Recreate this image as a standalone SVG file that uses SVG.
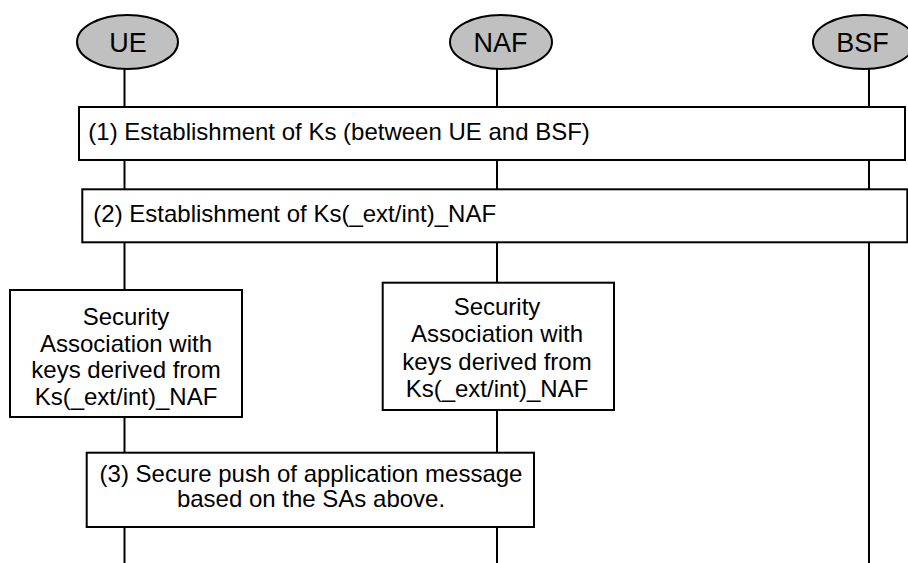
<svg xmlns="http://www.w3.org/2000/svg" width="908" height="563" viewBox="0 0 908 563">
<style>
.life{stroke:#000;stroke-width:2;fill:none}
.ent{fill:#c0c0c0;stroke:#000;stroke-width:2}
.box{fill:#fff;stroke:#000;stroke-width:2}
.hd{font-family:"Liberation Sans",Arial,sans-serif;font-size:27px;fill:#000;text-anchor:middle}
.t{font-family:"Liberation Sans",Arial,sans-serif;font-size:24px;fill:#000}
.c{text-anchor:middle}
</style>
<rect x="0" y="0" width="908" height="563" fill="#fff"/>
<g id="connectors">
<line class="life" x1="124.5" y1="69" x2="124.5" y2="563"/>
<line class="life" x1="497" y1="69" x2="497" y2="563"/>
<line class="life" x1="869" y1="69" x2="869" y2="563"/>
</g>
<g id="UE">
<ellipse class="ent" cx="127.5" cy="42" rx="50.5" ry="27"/>
<text class="hd" x="128" y="52">UE</text>
</g>
<g id="NAF">
<ellipse class="ent" cx="501" cy="42" rx="51" ry="27"/>
<text class="hd" x="500.5" y="52">NAF</text>
</g>
<g id="BSF">
<ellipse class="ent" cx="864" cy="42" rx="51" ry="27"/>
<text class="hd" x="862.5" y="52">BSF</text>
</g>
<g id="step1">
<rect class="box" x="79" y="107" width="826" height="53"/>
<text class="t" x="88.3" y="139.5">(1) Establishment of Ks (between UE and BSF)</text>
</g>
<g id="step2">
<rect class="box" x="82.3" y="189.3" width="825" height="53"/>
<text class="t" x="93.3" y="221.7">(2) Establishment of Ks(_ext/int)_NAF</text>
</g>
<g id="sa-ue">
<rect class="box" x="10" y="290" width="232" height="127"/>
<text class="t c" x="126" y="325">Security</text>
<text class="t c" x="126" y="351.5">Association with</text>
<text class="t c" x="126" y="378">keys derived from</text>
<text class="t c" x="126" y="405">Ks(_ext/int)_NAF</text>
</g>
<g id="sa-naf">
<rect class="box" x="382.7" y="282.7" width="231.3" height="127.3"/>
<text class="t c" x="497" y="315">Security</text>
<text class="t c" x="497" y="341.7">Association with</text>
<text class="t c" x="497" y="369.5">keys derived from</text>
<text class="t c" x="497" y="396.7">Ks(_ext/int)_NAF</text>
</g>
<g id="step3">
<rect class="box" x="86.7" y="452.7" width="447.3" height="74.3"/>
<text class="t c" x="311" y="481.7">(3) Secure push of application message</text>
<text class="t c" x="311" y="506.7">based on the SAs above.</text>
</g>
</svg>
